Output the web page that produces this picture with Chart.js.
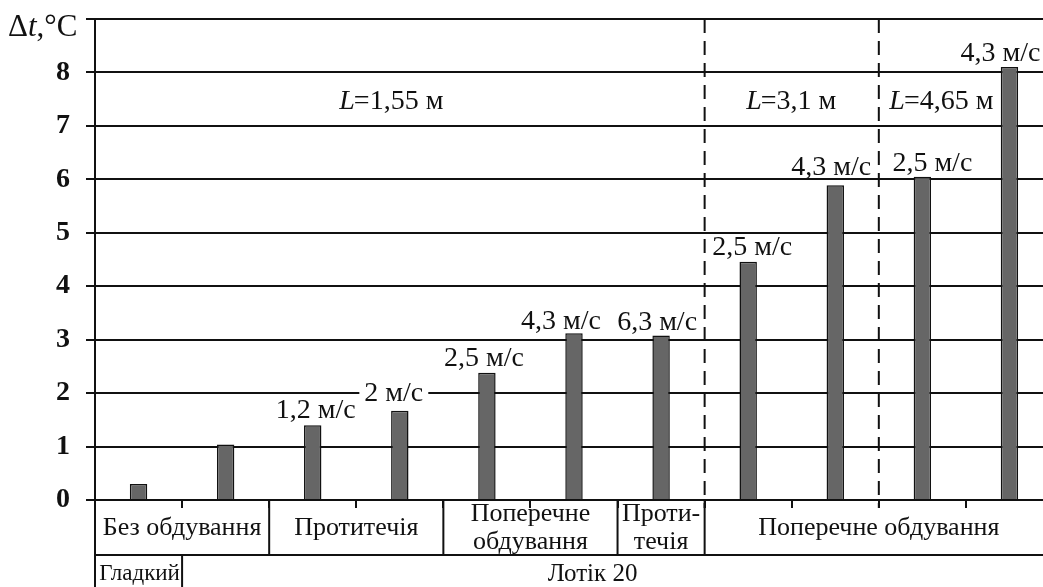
<!DOCTYPE html>
<html>
<head>
<meta charset="utf-8">
<script src="https://cdn.jsdelivr.net/npm/chart.js@4.4.1/dist/chart.umd.min.js"></script>
<style>
  html, body { margin: 0; padding: 0; background: #fff; overflow: hidden; }
  #wrap { width: 1043px; height: 587px; overflow: hidden; }
</style>
</head>
<body>
<div id="wrap"><canvas id="chart" width="1053" height="587"></canvas></div>
<script>
// bar values
const categories = ["1", "2", "3", "4", "5", "6", "7", "8", "9", "10", "11"];
const deltaT = [0.30, 1.04, 1.40, 1.67, 2.38, 3.12, 3.08, 4.46, 5.89, 6.05, 8.10];
const speedLabels = ["", "", "1,2 м/с", "2 м/с", "2,5 м/с", "4,3 м/с", "6,3 м/с", "2,5 м/с", "4,3 м/с", "2,5 м/с", "4,3 м/с"];
const yTicks = [0, 1, 2, 3, 4, 5, 6, 7, 8, 9];
const yTitle = ["Δ", "t", ",°C"];

// groups under the axis (category index ranges)
const modeGroups = [
  { text: ["Без обдування"], from: 0, to: 2 },
  { text: ["Протитечія"], from: 2, to: 4 },
  { text: ["Поперечне", "обдування"], from: 4, to: 6 },
  { text: ["Проти-", "течія"], from: 6, to: 7 },
  { text: ["Поперечне обдування"], from: 7, to: 11 }
];
const surfaceGroups = [
  { text: "Гладкий", from: 0, to: 1 },
  { text: "Лотік 20", from: 1, to: 11 }
];
const lengthZones = [
  { text: "=1,55 м", from: 0, to: 7 },
  { text: "=3,1 м", from: 7, to: 9 },
  { text: "=4,65 м", from: 9, to: 11 }
];

const SERIF = "'Liberation Serif', 'Times New Roman', serif";

// label nudges relative to bar top / zone centre
const speedNudge = [[0, 0], [0, 0], [3, -15], [-6, -17], [-3, -14], [-13, -12], [-4, -13], [4, -14], [-4, -18], [10, -13], [-9, -13]];
const zoneNudge = [-8, 0, -24];
const surfaceNudge = [1, -25];
const surfaceFont = [23, 25];

function edge(xs, i) {
  const w = xs.getPixelForValue(1) - xs.getPixelForValue(0);
  return xs.getPixelForValue(0) + (i - 0.5) * w;
}

const annotations = {
  id: "annotations",
  beforeDatasetsDraw(chart) {
    const ctx = chart.ctx;
    const xs = chart.scales.x;
    const area = chart.chartArea;
    ctx.save();
    ctx.strokeStyle = "#111";
    ctx.lineWidth = 2;
    ctx.setLineDash([14, 8]);
    [7, 9].forEach(i => {
      const x = edge(xs, i);
      ctx.beginPath();
      ctx.moveTo(x, area.top);
      ctx.lineTo(x, area.bottom + 8);
      ctx.stroke();
    });
    ctx.restore();
  },
  afterDraw(chart) {
    const ctx = chart.ctx;
    const xs = chart.scales.x;
    const area = chart.chartArea;
    const meta = chart.getDatasetMeta(0);
    const row1 = area.bottom + 55;
    const row2 = chart.height;

    ctx.save();
    ctx.fillStyle = "#111";
    ctx.strokeStyle = "#111";
    ctx.lineWidth = 2;
    ctx.textBaseline = "middle";
    ctx.textAlign = "center";

    // speed labels above bars
    ctx.font = "28px " + SERIF;
    meta.data.forEach((bar, i) => {
      if (!speedLabels[i]) return;
      const x = bar.x + speedNudge[i][0];
      const y = bar.y + speedNudge[i][1];
      const w = ctx.measureText(speedLabels[i]).width;
      if (i === 3) {
        ctx.fillStyle = "#fff";
        ctx.fillRect(x - w / 2 - 5, y - 11, w + 10, 22);
        ctx.fillStyle = "#111";
      }
      ctx.fillText(speedLabels[i], x, y);
    });

    // length zones
    lengthZones.forEach((z, k) => {
      const cx = (edge(xs, z.from) + edge(xs, z.to)) / 2 + zoneNudge[k];
      ctx.font = "italic 28px " + SERIF;
      const wl = ctx.measureText("L").width;
      ctx.font = "28px " + SERIF;
      const wr = ctx.measureText(z.text).width;
      const x0 = cx - (wl + wr) / 2;
      ctx.textAlign = "left";
      ctx.font = "italic 28px " + SERIF;
      ctx.fillText("L", x0, area.top + 83);
      ctx.font = "28px " + SERIF;
      ctx.fillText(z.text, x0 + wl - 1, area.top + 83);
      ctx.textAlign = "center";
    });

    // table under the axis
    ctx.beginPath();
    ctx.moveTo(area.left, row1);
    ctx.lineTo(area.right, row1);
    ctx.moveTo(area.left, area.bottom);
    ctx.lineTo(area.left, row2);
    modeGroups.forEach(g => {
      if (g.from === 0) return;
      const x = edge(xs, g.from);
      ctx.moveTo(x, area.bottom);
      ctx.lineTo(x, row1);
    });
    surfaceGroups.forEach(g => {
      if (g.from === 0) return;
      const x = edge(xs, g.from);
      ctx.moveTo(x, row1);
      ctx.lineTo(x, row2);
    });
    ctx.stroke();

    ctx.font = "26px " + SERIF;
    modeGroups.forEach(g => {
      const cx = (edge(xs, g.from) + Math.min(edge(xs, g.to), area.right)) / 2;
      if (g.text.length === 1) {
        ctx.fillText(g.text[0], cx, area.bottom + 28);
      } else {
        ctx.fillText(g.text[0], cx, area.bottom + 14);
        ctx.fillText(g.text[1], cx, area.bottom + 42);
      }
    });
    surfaceGroups.forEach((g, k) => {
      ctx.font = surfaceFont[k] + "px " + SERIF;
      const cx = (edge(xs, g.from) + edge(xs, g.to)) / 2 + surfaceNudge[k];
      ctx.fillText(g.text, cx, row1 + 19);
    });

    // axis title
    ctx.textAlign = "left";
    let x = 8;
    const ty = 28;
    ctx.font = "31px " + SERIF;
    ctx.fillText(yTitle[0], x, ty);
    x += ctx.measureText(yTitle[0]).width;
    ctx.font = "italic 31px " + SERIF;
    ctx.fillText(yTitle[1], x, ty);
    x += ctx.measureText(yTitle[1]).width;
    ctx.font = "31px " + SERIF;
    ctx.fillText(yTitle[2], x, ty);
    ctx.restore();
  }
};

new Chart(document.getElementById("chart"), {
  type: "bar",
  data: {
    labels: categories,
    datasets: [{
      data: deltaT,
      backgroundColor: "#666666",
      borderColor: "#111111",
      borderWidth: 1.5,
      borderSkipped: "bottom",
      barPercentage: 0.2,
      categoryPercentage: 1
    }]
  },
  options: {
    responsive: false,
    animation: false,
    layout: { padding: { top: 19, right: 0, left: 0, bottom: 0 } },
    plugins: {
      legend: { display: false },
      tooltip: { enabled: false }
    },
    scales: {
      x: {
        ticks: { display: false },
        grid: { drawOnChartArea: false, color: "#111", lineWidth: 2, tickLength: 8, offset: true },
        border: { color: "#111", width: 2 },
        afterFit(s) { s.height = 87; s.paddingLeft = 0; s.paddingRight = 0; }
      },
      y: {
        min: yTicks[0],
        max: yTicks[yTicks.length - 1],
        afterBuildTicks(s) { s.ticks = yTicks.map(v => ({ value: v })); },
        ticks: {
          callback: v => (v === 9 ? "" : v),
          color: "#111",
          padding: 16,
          font: { family: SERIF, size: 28, weight: "bold" }
        },
        grid: { color: "#111", lineWidth: 2, tickLength: 9 },
        border: { color: "#111", width: 2 },
        afterFit(s) { s.width = 95; s.paddingTop = 0; s.paddingBottom = 0; }
      }
    }
  },
  plugins: [annotations]
});
</script>
</body>
</html>
